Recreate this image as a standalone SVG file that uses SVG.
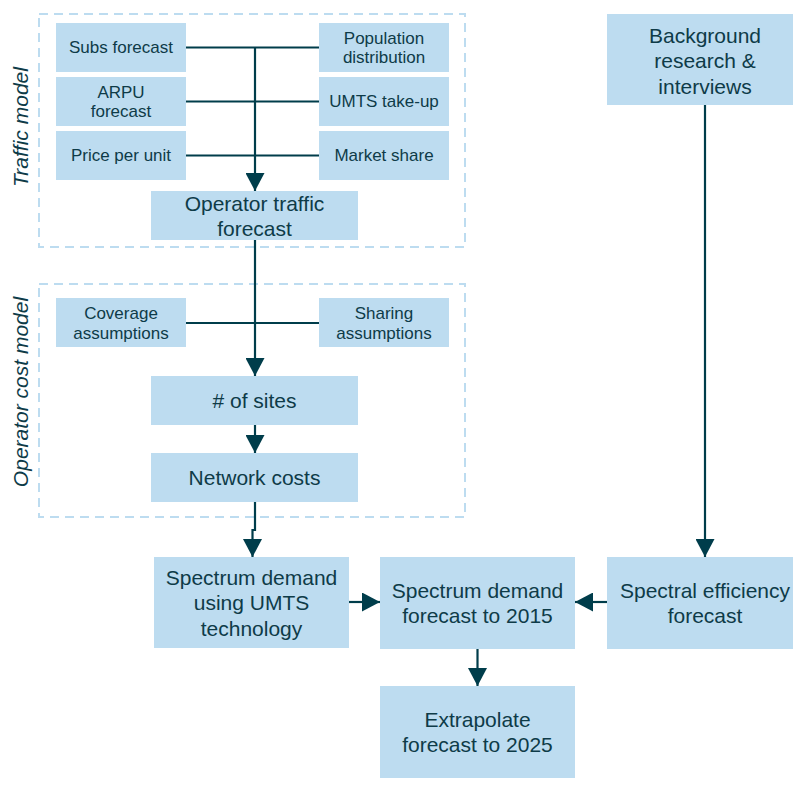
<svg xmlns="http://www.w3.org/2000/svg" width="793" height="787" viewBox="0 0 793 787">
<style>
.box{fill:#BDDCF0;}
.sm{font-family:"Liberation Sans",Arial,sans-serif;font-size:17px;fill:#0E3B48;text-anchor:middle;}
.lg{font-family:"Liberation Sans",Arial,sans-serif;font-size:21px;fill:#0E3B48;text-anchor:middle;}
.side{font-family:"Liberation Sans",Arial,sans-serif;font-size:21px;font-style:italic;fill:#0E3B48;text-anchor:middle;}
.group{fill:none;stroke:#BDDCF0;stroke-width:2;stroke-dasharray:9 6;}
.conn{fill:none;stroke:#003D4B;stroke-width:2.2;}
.arr{marker-end:url(#ah);}
</style>
<defs>
<marker id="ah" markerUnits="userSpaceOnUse" markerWidth="19" markerHeight="19" refX="18" refY="9.5" orient="auto">
<path d="M0,0 L18,9.5 L0,19 z" fill="#003D4B"/>
</marker>
</defs>

<g id="traffic-model-group">
<rect class="group" x="39" y="14" width="426" height="233"/>
<text class="side" transform="translate(28,127) rotate(-90)">Traffic model</text>
</g>
<g id="cost-model-group">
<rect class="group" x="39" y="284" width="426" height="233"/>
<text class="side" transform="translate(28,392) rotate(-90)">Operator cost model</text>
</g>

<g id="connectors">
<line class="conn" x1="186" y1="47.5" x2="319" y2="47.5"/>
<line class="conn" x1="186" y1="101.5" x2="319" y2="101.5"/>
<line class="conn" x1="186" y1="155.5" x2="319" y2="155.5"/>
<line class="conn arr" x1="255" y1="47.5" x2="255" y2="191"/>
<line class="conn" x1="186" y1="323" x2="319" y2="323"/>
<line class="conn arr" x1="255" y1="240" x2="255" y2="376"/>
<line class="conn arr" x1="255" y1="425" x2="255" y2="453"/>
<path class="conn arr" d="M255,502 V530 H252.5 V557"/>
<line class="conn arr" x1="349" y1="602" x2="380" y2="602"/>
<line class="conn arr" x1="607" y1="602" x2="575" y2="602"/>
<line class="conn arr" x1="477.5" y1="649" x2="477.5" y2="686"/>
<line class="conn arr" x1="705" y1="105" x2="705" y2="557"/>
</g>

<g id="subs-forecast"><rect class="box" x="56" y="23" width="130" height="49"/><text class="sm" x="121" y="53">Subs forecast</text></g>
<g id="population-distribution"><rect class="box" x="319" y="23" width="130" height="49"/><text class="sm" x="384" y="44">Population</text><text class="sm" x="384" y="63">distribution</text></g>
<g id="arpu-forecast"><rect class="box" x="56" y="77" width="130" height="49"/><text class="sm" x="121" y="98">ARPU</text><text class="sm" x="121" y="117">forecast</text></g>
<g id="umts-take-up"><rect class="box" x="319" y="77" width="130" height="49"/><text class="sm" x="384" y="107">UMTS take-up</text></g>
<g id="price-per-unit"><rect class="box" x="56" y="131" width="130" height="49"/><text class="sm" x="121" y="161">Price per unit</text></g>
<g id="market-share"><rect class="box" x="319" y="131" width="130" height="49"/><text class="sm" x="384" y="161">Market share</text></g>
<g id="operator-traffic-forecast"><rect class="box" x="151" y="191" width="207" height="49"/><text class="lg" x="254.5" y="211">Operator traffic</text><text class="lg" x="254.5" y="236">forecast</text></g>

<g id="coverage-assumptions"><rect class="box" x="56" y="298" width="130" height="49"/><text class="sm" x="121" y="319">Coverage</text><text class="sm" x="121" y="339">assumptions</text></g>
<g id="sharing-assumptions"><rect class="box" x="319" y="298" width="130" height="49"/><text class="sm" x="384" y="319">Sharing</text><text class="sm" x="384" y="339">assumptions</text></g>
<g id="num-sites"><rect class="box" x="151" y="376" width="207" height="49"/><text class="lg" x="254.5" y="408">
# of sites</text></g>
<g id="network-costs"><rect class="box" x="151" y="453" width="207" height="49"/><text class="lg" x="254.5" y="485">Network costs</text></g>

<g id="background-research"><rect class="box" x="607" y="14" width="196" height="91"/><text class="lg" x="705" y="43">Background</text><text class="lg" x="705" y="68">research &amp;</text><text class="lg" x="705" y="94">interviews</text></g>
<g id="spectrum-demand-umts"><rect class="box" x="154" y="557" width="195" height="91"/><text class="lg" x="251.5" y="585">Spectrum demand</text><text class="lg" x="251.5" y="610">using UMTS</text><text class="lg" x="251.5" y="636">technology</text></g>
<g id="spectrum-demand-2015"><rect class="box" x="380" y="557" width="195" height="92"/><text class="lg" x="477.5" y="598">Spectrum demand</text><text class="lg" x="477.5" y="623">forecast to 2015</text></g>
<g id="spectral-efficiency"><rect class="box" x="607" y="557" width="196" height="92"/><text class="lg" x="705" y="598">Spectral efficiency</text><text class="lg" x="705" y="623">forecast</text></g>
<g id="extrapolate-2025"><rect class="box" x="380" y="686" width="195" height="92"/><text class="lg" x="477.5" y="727">Extrapolate</text><text class="lg" x="477.5" y="752">forecast to 2025</text></g>
</svg>
